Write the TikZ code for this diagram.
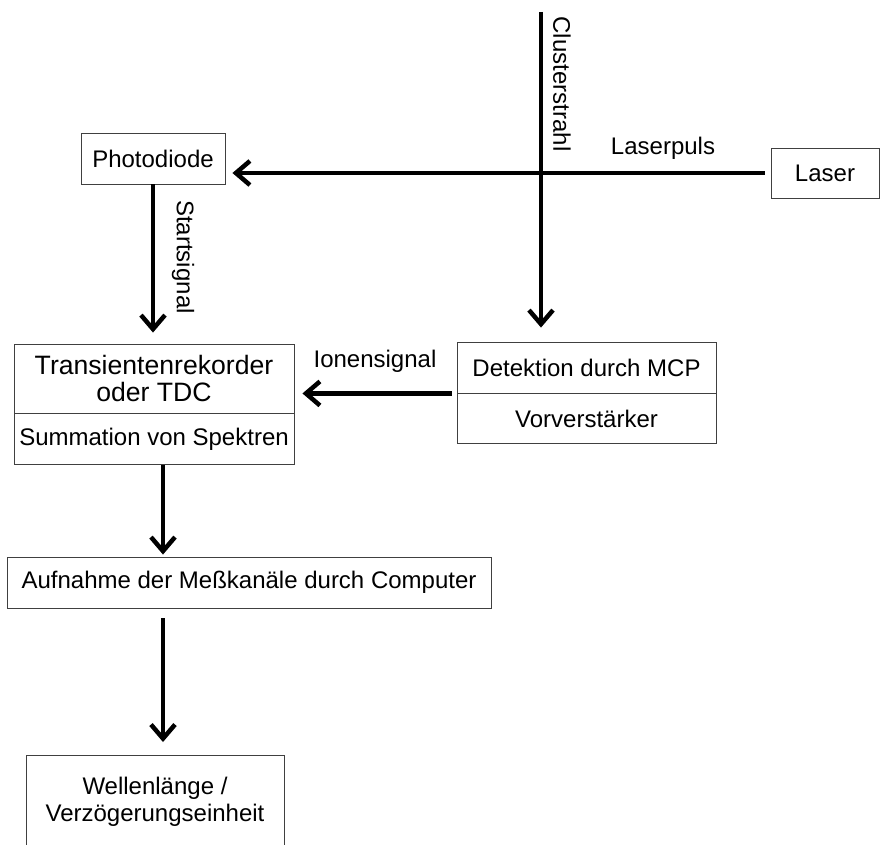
\documentclass[tikz,border=0pt]{standalone}
\usepackage{fontspec}
\setmainfont{Liberation Sans}
\usetikzlibrary{arrows.meta,calc}
\begin{document}
\begin{tikzpicture}[x=1pt,y=-1pt,
  box/.style={draw=black!75, line width=0.9pt, rectangle, inner sep=0pt,
    font=\fontsize{24}{27}\selectfont, align=center},
  arr/.style={line width=4.5pt, -{Straight Barb[length=14pt,width=24pt]}},
  lbl/.style={font=\fontsize{24}{27}\selectfont, inner sep=0pt}]
\useasboundingbox (0,0) rectangle (880,845);
% boxes
\node[box, minimum width=144pt, minimum height=51pt] (pd) at (153,158.5) {Photodiode};
\node[box, minimum width=108pt, minimum height=50pt] (laser) at (825,173) {Laser};
\node[box, minimum width=280pt, minimum height=69pt, font=\fontsize{26.6}{27}\selectfont] (trtop) at (154,378.5) {Transientenrekorder\\oder TDC};
\node[box, minimum width=280pt, minimum height=51pt, anchor=north] (trbot) at (trtop.south) {Summation von Spektren};
\node[box, minimum width=259pt, minimum height=51pt] (dettop) at (586.5,367.5) {Detektion durch MCP};
\node[box, minimum width=259pt, minimum height=50pt, anchor=north] (detbot) at (dettop.south) {Vorverstärker};
\node[box, minimum width=484pt, minimum height=51pt] (auf) at (249,582.5) {Aufnahme der Meßkanäle durch Computer};
\node[box, minimum width=258pt, minimum height=92pt, anchor=north] (wl) at (155,755) {Wellenlänge /\\Verzögerungseinheit};
% labels
\node[lbl, rotate=-90] (cslbl) at (562,84) {Clusterstrahl};
\node[lbl] (lplbl) at (663,148) {Laserpuls};
\node[lbl, rotate=-90] (sslbl) at (183,257) {Startsignal};
\node[lbl] (islbl) at (375,361) {Ionensignal};
% connectors
\coordinate (cstop) at (541,12);
\draw[arr, shorten >=14pt] (cstop) -- (cstop |- dettop.north);
\draw[arr, shorten <=6pt, shorten >=7pt] (laser.west) -- (laser.west -| pd.east);
\draw[arr, shorten >=11pt] (pd.south) -- (pd.south |- trtop.north);
\draw[arr, shorten <=5pt, shorten >=8pt] (dettop.south west) -- (dettop.south west -| trtop.east);
\coordinate (c1) at ([xshift=9pt]trbot.south);
\draw[arr, shorten >=2pt] (c1) -- (c1 |- auf.north);
\draw[arr, shorten <=10pt, shorten >=13pt] (c1 |- auf.south) -- (c1 |- wl.north);
\end{tikzpicture}
\end{document}
